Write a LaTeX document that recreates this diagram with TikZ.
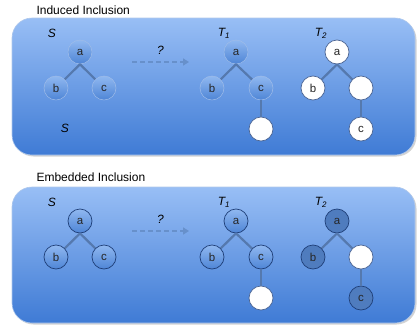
\documentclass[tikz,border=0pt]{standalone}
\usepackage{fontspec}
\setmainfont{Liberation Sans}
\usetikzlibrary{arrows.meta,positioning,shadows}
\definecolor{panelTop}{HTML}{98BEF5}
\definecolor{panelBottom}{HTML}{3F7BD5}
\definecolor{panelRim}{HTML}{AFC8EC}
\definecolor{nodeTop}{HTML}{90B8F0}
\definecolor{nodeBottom}{HTML}{4E85D6}
\definecolor{nodeRim}{HTML}{9FBCE8}
\definecolor{navyRim}{HTML}{1F3F78}
\definecolor{darkFill}{HTML}{4F7CBE}
\definecolor{edgeBlue}{HTML}{5579AE}
\definecolor{arrowBlue}{HTML}{6790CB}

\begin{document}
\begin{tikzpicture}[>=Stealth, x=1pt, y=-1pt,
    panel/.style={rounded corners=20pt, draw=panelRim, line width=0.6pt,
        top color=panelTop, bottom color=panelBottom,
        drop shadow={opacity=0.35, shadow xshift=1.5pt, shadow yshift=-1.5pt}},
    title/.style={font=\fontsize{12}{14}\selectfont, anchor=west},
    tag/.style={font=\fontsize{12}{14}\selectfont\itshape},
    vertex/.style={circle, minimum size=24pt, inner sep=0pt, line width=0.7pt,
        font=\fontsize{11.5}{13}\selectfont, text=black!85},
    bluenode/.style={vertex, draw=nodeRim, line width=0.5pt, top color=nodeTop, bottom color=nodeBottom},
    blueframed/.style={vertex, draw=navyRim, top color=nodeTop, bottom color=nodeBottom},
    darknode/.style={vertex, draw=navyRim, fill=darkFill},
    whitenode/.style={vertex, draw=navyRim!80, fill=white},
    edge/.style={draw=edgeBlue, line width=2.2pt},
    guess/.style={->, draw=arrowBlue, line width=2pt, dash pattern=on 5pt off 3pt,
        -{Triangle[length=6pt, width=7pt]}}]
    \useasboundingbox (0,0) rectangle (418,327);

    % Induced inclusion
    \node[title] (titleA) at (33,10) {Induced Inclusion};
    \path[panel] (12,18) rectangle (415,155);

    \node[tag] (sA) at (52,33) {S};
    \node[tag] (sA2) at (65,128) {S};
    \node[bluenode] (aA) at (80,52) {a};
    \node[bluenode] (bA) at (56,88) {b};
    \node[bluenode] (cA) at (104,88) {c};
    \draw[edge] (aA.south) -- (bA);
    \draw[edge] (aA.south) -- (cA);

    \coordinate (fromA) at (132,62);
    \coordinate (toA) at (189,62);
    \draw[guess] (fromA) -- (toA) node[midway, above=3pt, tag] (qA) {?};

    \node[tag] (tA) at (224,33) {T\textsubscript{1}};
    \node[bluenode] (aA1) at (236,52) {a};
    \node[bluenode] (bA1) at (212,88) {b};
    \node[bluenode] (cA1) at (261,88) {c};
    \node[whitenode] (dA1) at (261,129) {};
    \draw[edge] (aA1.south) -- (bA1);
    \draw[edge] (aA1.south) -- (cA1);
    \draw[edge] (cA1) -- (dA1);

    \node[tag] (tA2) at (321,33) {T\textsubscript{2}};
    \node[whitenode] (aA2) at (337,52) {a};
    \node[whitenode] (bA2) at (313,88) {b};
    \node[whitenode] (eA2) at (361,88) {};
    \node[whitenode] (cA2) at (361,129) {c};
    \draw[edge] (aA2.south) -- (bA2);
    \draw[edge] (aA2.south) -- (eA2);
    \draw[edge] (eA2) -- (cA2);

    % Embedded inclusion
    \node[title] (titleB) at (33,177) {Embedded Inclusion};
    \path[panel] (12,187) rectangle (415,323);

    \node[tag] (sB) at (52,202) {S};
    \node[blueframed] (aB) at (80,221) {a};
    \node[blueframed] (bB) at (56,257) {b};
    \node[blueframed] (cB) at (104,257) {c};
    \draw[edge] (aB.south) -- (bB);
    \draw[edge] (aB.south) -- (cB);

    \coordinate (fromB) at (132,231);
    \coordinate (toB) at (189,231);
    \draw[guess] (fromB) -- (toB) node[midway, above=3pt, tag] (qB) {?};

    \node[tag] (tB) at (224,202) {T\textsubscript{1}};
    \node[blueframed] (aB1) at (236,221) {a};
    \node[blueframed] (bB1) at (212,257) {b};
    \node[blueframed] (cB1) at (261,257) {c};
    \node[whitenode] (dB1) at (261,298) {};
    \draw[edge] (aB1.south) -- (bB1);
    \draw[edge] (aB1.south) -- (cB1);
    \draw[edge] (cB1) -- (dB1);

    \node[tag] (tB2) at (321,202) {T\textsubscript{2}};
    \node[darknode] (aB2) at (337,221) {a};
    \node[darknode] (bB2) at (313,257) {b};
    \node[whitenode] (eB2) at (361,257) {};
    \node[darknode] (cB2) at (361,298) {c};
    \draw[edge] (aB2.south) -- (bB2);
    \draw[edge] (aB2.south) -- (eB2);
    \draw[edge] (eB2) -- (cB2);
\end{tikzpicture}
\end{document}
